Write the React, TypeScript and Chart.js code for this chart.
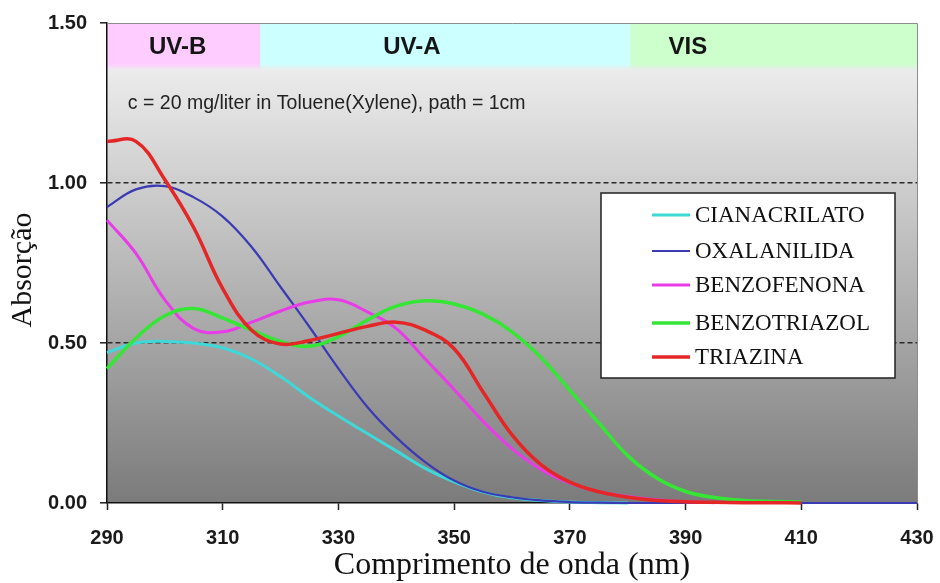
import { useEffect, useRef } from 'react';
import { Chart, registerables } from 'chart.js';

Chart.register(...registerables);

// Wavelength grid (nm) shared by every absorption curve
const wavelengths = [
  290, 295, 300, 305, 310, 315, 320, 325, 330, 335, 340, 345, 350, 355, 360,
  365, 370, 375, 380, 385, 390, 395, 400, 405, 410, 415, 420, 425, 430,
];

// Absorbance per UV absorber class (null = not measured)
const cianacrilato = [
  0.47, 0.5, 0.505, 0.5, 0.485, 0.45, 0.395, 0.33, 0.272, 0.217, 0.163, 0.108, 0.066, 0.034, 0.016,
  0.008, 0.003, 0.001, 0, null, null, null, null, null, null, null, null, null, null,
];
const oxalanilida = [
  0.925, 0.98, 0.99, 0.955, 0.895, 0.8, 0.675, 0.55, 0.42, 0.3, 0.205, 0.128, 0.07, 0.035, 0.018,
  0.008, 0.003, 0.001, 0, 0, 0, 0, 0, 0, 0, 0, 0, 0, 0,
];
const benzofenona = [
  0.884, 0.78, 0.635, 0.545, 0.535, 0.565, 0.6, 0.628, 0.635, 0.597, 0.545, 0.45, 0.355, 0.255, 0.17,
  0.105, 0.062, 0.035, 0.02, 0.01, 0.004, 0.001, null, null, null, null, null, null, null,
];
const benzotriazol = [
  0.42, 0.515, 0.585, 0.608, 0.578, 0.54, 0.505, 0.49, 0.52, 0.572, 0.615, 0.632, 0.622, 0.59, 0.535,
  0.455, 0.352, 0.25, 0.148, 0.078, 0.036, 0.017, 0.008, 0.005, 0.003, null, null, null, null,
];
const triazina = [
  1.13, 1.13, 1.01, 0.86, 0.67, 0.54, 0.497, 0.508, 0.53, 0.552, 0.565, 0.54, 0.482, 0.347, 0.213,
  0.12, 0.065, 0.035, 0.018, 0.008, 0.004, 0.002, 0.001, 0.001, 0, null, null, null, null,
];

const seriesNames = ['CIANACRILATO', 'OXALANILIDA', 'BENZOFENONA', 'BENZOTRIAZOL', 'TRIAZINA'];
const seriesValues = [cianacrilato, oxalanilida, benzofenona, benzotriazol, triazina];
const seriesColors = ['#3fd8d8', '#3a3ab4', '#e83ce8', '#35e635', '#e42626'];
const seriesWidths = [3, 2.2, 3, 3.5, 3.5];

// Spectral regions shown along the top of the plot
const bandNames = ['UV-B', 'UV-A', 'VIS'];
const bandEdges = [290, 316.5, 380.5, 430];
const bandLabelAt = [302.2, 342.7, 390.4];
const bandColors = ['#ffccff', '#ccffff', '#ccffcc'];
const bandBottom = 1.36;
const bandLabelLevel = 1.425;

const noteText = 'c = 20 mg/liter in Toluene(Xylene), path = 1cm';
const noteAt = [293.6, 1.247];

const xTitle = 'Comprimento de onda (nm)';
const yTitle = 'Absorção';

const tickFont = { family: '"Liberation Sans", Arial, sans-serif', size: 20, weight: 'bold' as const };

const panelPlugin = {
  id: 'panel',
  beforeDraw(chart: any) {
    const { ctx, chartArea: a, scales } = chart;
    const x = scales.x;
    const y = scales.y;
    ctx.save();
    const top = y.getPixelForValue(bandBottom);
    const g = ctx.createLinearGradient(0, top, 0, a.bottom);
    g.addColorStop(0, '#ececec');
    g.addColorStop(1, '#7b7b7b');
    ctx.fillStyle = g;
    ctx.fillRect(a.left, a.top, a.right - a.left, a.bottom - a.top);

    const yTop = y.getPixelForValue(1.5);
    const yBot = y.getPixelForValue(bandBottom);
    bandNames.forEach((_, i) => {
      const x0 = x.getPixelForValue(bandEdges[i]);
      const x1 = x.getPixelForValue(bandEdges[i + 1]);
      ctx.fillStyle = bandColors[i];
      ctx.fillRect(x0, yTop, x1 - x0, yBot - yTop - 3);
      // soft lower edge of the band
      const fade = ctx.createLinearGradient(0, yBot - 3, 0, yBot + 4);
      fade.addColorStop(0, bandColors[i]);
      fade.addColorStop(1, 'rgba(236,236,236,0)');
      ctx.fillStyle = fade;
      ctx.fillRect(x0, yBot - 3, x1 - x0, 7);
    });
    ctx.restore();
  },
  beforeDatasetsDraw(chart: any) {
    const { ctx, scales, chartArea: a } = chart;
    const x = scales.x;
    const y = scales.y;
    ctx.save();
    ctx.fillStyle = '#151515';
    ctx.font = 'bold 24px "Liberation Sans", Arial, sans-serif';
    ctx.textAlign = 'center';
    ctx.textBaseline = 'middle';
    bandNames.forEach((name, i) => {
      ctx.fillText(name, x.getPixelForValue(bandLabelAt[i]), y.getPixelForValue(bandLabelLevel));
    });
    ctx.fillStyle = '#222';
    ctx.font = '19.5px "Liberation Sans", Arial, sans-serif';
    ctx.textAlign = 'left';
    ctx.fillText(noteText, x.getPixelForValue(noteAt[0]), y.getPixelForValue(noteAt[1]));

    // y-axis title, centred a little below the middle of the plot
    ctx.fillStyle = '#111';
    ctx.font = '30px "Liberation Serif", "Times New Roman", serif';
    ctx.textAlign = 'center';
    ctx.translate(23, (a.top + a.bottom) / 2 + 7);
    ctx.rotate(-Math.PI / 2);
    ctx.fillText(yTitle, 0, 0);
    ctx.restore();
  },
  afterDraw(chart: any) {
    const { ctx, chartArea: a } = chart;
    ctx.save();
    // light frame on the open sides of the plot
    ctx.strokeStyle = '#8c8c8c';
    ctx.lineWidth = 1;
    ctx.beginPath();
    ctx.moveTo(a.left, a.top + 0.5);
    ctx.lineTo(a.right + 0.5, a.top + 0.5);
    ctx.lineTo(a.right + 0.5, a.bottom);
    ctx.stroke();

    // legend box
    const lx = a.right - 316;
    const ly = a.top + 170;
    const lw = 294;
    const lh = 185;
    ctx.fillStyle = '#ffffff';
    ctx.fillRect(lx, ly, lw, lh);
    ctx.strokeStyle = '#222';
    ctx.lineWidth = 1.5;
    ctx.strokeRect(lx, ly, lw, lh);
    ctx.font = '23px "Liberation Serif", "Times New Roman", serif';
    ctx.textAlign = 'left';
    ctx.textBaseline = 'middle';
    const rows = [22, 58, 92, 130, 164];
    seriesNames.forEach((name, i) => {
      const ry = ly + rows[i];
      ctx.strokeStyle = seriesColors[i];
      ctx.lineWidth = seriesWidths[i];
      ctx.beginPath();
      ctx.moveTo(lx + 51, ry);
      ctx.lineTo(lx + 89, ry);
      ctx.stroke();
      ctx.fillStyle = '#111';
      ctx.fillText(name, lx + 94, ry + 1);
    });
    ctx.restore();
  },
};

export default function App() {
  const canvasRef = useRef<HTMLCanvasElement | null>(null);

  useEffect(() => {
    const canvas = canvasRef.current;
    if (!canvas) return;
    const datasets = seriesNames.map((name, i) => ({
      label: name,
      data: wavelengths
        .map((w, j) => ({ x: w, y: seriesValues[i][j] }))
        .filter((p) => p.y !== null),
      borderColor: seriesColors[i],
      backgroundColor: seriesColors[i],
      borderWidth: seriesWidths[i],
      pointRadius: 0,
      fill: false,
      tension: 0.4,
      clip: 6,
      order: seriesNames.length - 1 - i,
    }));

    const chart = new Chart(canvas, {
      type: 'line',
      data: { datasets },
      options: {
        animation: false,
        responsive: false,
        devicePixelRatio: 1,
        layout: { padding: { top: 23, right: 23, left: 0, bottom: 0 } },
        plugins: { legend: { display: false }, tooltip: { enabled: false } },
        scales: {
          x: {
            type: 'linear',
            min: 290,
            max: 430,
            ticks: { stepSize: 20, font: tickFont, color: '#1a1a1a', padding: 16, maxRotation: 0, autoSkip: false },
            grid: { drawOnChartArea: false, tickLength: 7, tickColor: '#222', tickWidth: 1.5 },
            border: { color: '#111', width: 1.5 },
            title: {
              display: true,
              text: xTitle,
              color: '#111',
              font: { family: '"Liberation Serif", "Times New Roman", serif', size: 32, lineHeight: 1.1 },
              padding: 0,
            },
            afterFit(scale: any) {
              scale.height = 80;
              scale.paddingLeft = 0;
              scale.paddingRight = 0;
            },
          },
          y: {
            min: 0,
            max: 1.5,
            ticks: {
              stepSize: 0.5,
              font: tickFont,
              color: '#1a1a1a',
              padding: 13,
              callback: (v: any) => Number(v).toFixed(2),
            },
            grid: {
              color: (c: any) =>
                c.tick && (c.tick.value === 0.5 || c.tick.value === 1) ? '#2a2a2a' : 'rgba(0,0,0,0)',
              lineWidth: 1.6,
              tickLength: 7,
              tickColor: '#222',
              tickWidth: 1.5,
            },
            border: { color: '#111', width: 1.5, dash: [5, 3] },
            title: { display: false },
            afterFit(scale: any) {
              scale.width = 107;
              scale.paddingTop = 0;
              scale.paddingBottom = 0;
            },
          },
        },
      },
      plugins: [panelPlugin],
    });
    return () => chart.destroy();
  }, []);

  return (
    <div style={{ position: 'fixed', left: 0, top: 0, width: 940, height: 583, background: '#fff' }}>
      <canvas ref={canvasRef} width={940} height={583} style={{ display: 'block' }} />
    </div>
  );
}
